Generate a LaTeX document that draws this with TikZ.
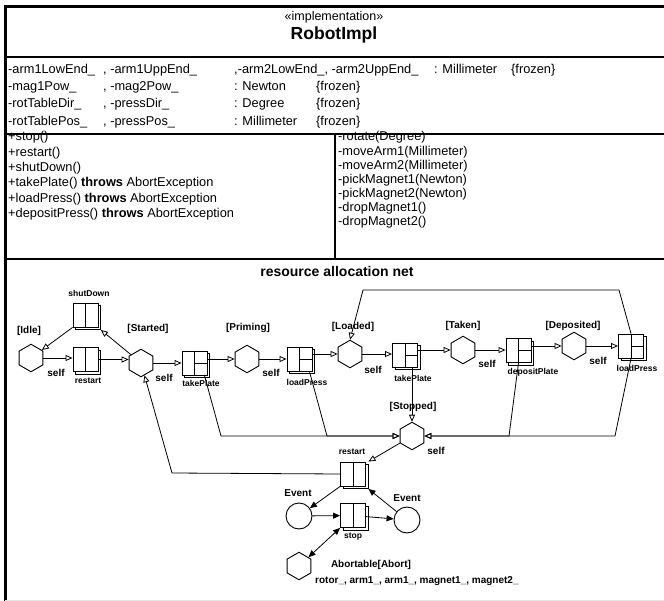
\documentclass[tikz,border=0pt]{standalone}
\usepackage{fontspec}
\setmainfont{Liberation Sans}
\usetikzlibrary{arrows.meta,shapes.geometric,shadows,calc}

% transition box: name, position, kind (2 = two cells, 3 = right cell split)
\newcommand\transbox[3]{%
  \node[tbox] (#1) at (#2) {};
  \draw[thin line] (#1.north) -- (#1.south);
  \ifnum#3=3 \draw[thin line] (#1.center) -- (#1.east);\fi
}

\begin{document}
\begin{tikzpicture}[x=1pt,y=-1pt,
  thin line/.style={line width=0.9pt},
  frame/.style={line width=3pt},
  sep/.style={line width=1.5pt},
  row/.style={anchor=west, inner sep=0pt, text height=9pt, text depth=3pt,
              font=\fontsize{12.8}{15}\selectfont},
  hex/.style={draw, line width=0.9pt, fill=white, regular polygon,
              regular polygon sides=6, shape border rotate=30,
              minimum size=27.5pt, inner sep=0pt},
  ev/.style={draw, line width=0.9pt, fill=white, circle, minimum size=26pt, inner sep=0pt},
  tbox/.style={draw, line width=0.9pt, fill=white, minimum width=25pt,
               minimum height=24pt, inner sep=0pt,
               copy shadow={shadow xshift=2.5pt, shadow yshift=-2.5pt}},
  lbl/.style={font=\fontsize{10}{12}\selectfont\bfseries, inner sep=0pt},
  tlbl/.style={font=\fontsize{8.5}{10}\selectfont\bfseries, inner sep=0pt},
  arc/.style={line width=0.8pt, -{Triangle[open,length=7pt,width=6pt]}},
  farc/.style={line width=0.8pt, -{Triangle[length=7pt,width=6pt]}},
  biarc/.style={line width=0.8pt, {Triangle[length=7pt,width=6pt]}-{Triangle[length=7pt,width=6pt]}},
]
\useasboundingbox (0,0) rectangle (664,601);

% ---------- class frame and compartments ----------
\draw[frame, line cap=rect] (5,601) -- (5,7) -- (664,7);
\draw[sep] (5,57) -- (664,57);
\draw[sep] (5,134) -- (664,134);
\draw[sep] (5,259) -- (664,259);
\draw[line width=1.2pt] (335,134) -- (335,259);
\draw[gray!20, line width=0.8pt] (5,600.5) -- (664,600.5);

\node[inner sep=0pt, font=\fontsize{12.5}{15}\selectfont] (stereo) at (334,17) {«implementation»};
\node[inner sep=0pt, font=\fontsize{17.5}{20}\selectfont\bfseries] (cname) at (334,35) {RobotImpl};

% attributes
\node[row] (a1a) at (8,71) {-arm1LowEnd\_};
\node[row] (a1b) at (103,71) {, -arm1UppEnd\_};
\node[row] (a1c) at (234,71) {,-arm2LowEnd\_, -arm2UppEnd\_};
\node[row] (a1d) at (434,71) {: Millimeter};
\node[row] (a1e) at (511,71) {\{frozen\}};
\node[row] (a2a) at (8,88) {-mag1Pow\_};
\node[row] (a2b) at (103,88) {, -mag2Pow\_};
\node[row] (a2c) at (234,88) {: Newton};
\node[row] (a2d) at (316,88) {\{frozen\}};
\node[row] (a3a) at (8,105) {-rotTableDir\_};
\node[row] (a3b) at (103,105) {, -pressDir\_};
\node[row] (a3c) at (234,105) {: Degree};
\node[row] (a3d) at (316,105) {\{frozen\}};
\node[row] (a4a) at (8,123) {-rotTablePos\_};
\node[row] (a4b) at (103,123) {, -pressPos\_};
\node[row] (a4c) at (234,123) {: Millimeter};
\node[row] (a4d) at (316,123) {\{frozen\}};

% public operations
\node[row] (o1) at (8,138) {+stop()};
\node[row] (o2) at (8,154) {+restart()};
\node[row] (o3) at (8,169) {+shutDown()};
\node[row] (o4) at (8,184) {+takePlate() \textbf{throws} AbortException};
\node[row] (o5) at (8,200) {+loadPress() \textbf{throws} AbortException};
\node[row] (o6) at (8,215) {+depositPress() \textbf{throws} AbortException};

% private operations
\node[row] (p1) at (338,138) {-rotate(Degree)};
\node[row] (p2) at (338,152.5) {-moveArm1(Millimeter)};
\node[row] (p3) at (338,167) {-moveArm2(Millimeter)};
\node[row] (p4) at (338,181) {-pickMagnet1(Newton)};
\node[row] (p5) at (338,195) {-pickMagnet2(Newton)};
\node[row] (p6) at (338,209) {-dropMagnet1()};
\node[row] (p7) at (338,223) {-dropMagnet2()};

% ---------- resource allocation net ----------
\node[inner sep=0pt, font=\fontsize{14}{16}\selectfont\bfseries] (nettitle) at (337,271) {resource allocation net};

% places
\node[hex] (idle) at (31,358) {};
\node[hex] (started) at (141,363) {};
\node[hex] (priming) at (247,359) {};
\node[hex] (loaded) at (350,354) {};
\node[hex] (taken) at (463,350) {};
\node[hex] (deposited) at (574,346) {};
\node[hex] (stopped) at (412,436) {};
\node[hex] (abortable) at (299,566) {};
\node[ev] (eventA) at (299,516) {};
\node[ev] (eventB) at (407,520) {};

% transitions
\transbox{shutdown}{85.5,315}{2}
\transbox{restartA}{85.5,359.5}{2}
\transbox{takeplateA}{194.5,363}{3}
\transbox{loadpressA}{299.5,359}{3}
\transbox{takeplateB}{405,355}{3}
\transbox{depositplate}{518.5,350.5}{3}
\transbox{loadpressB}{631,346}{3}
\transbox{restartB}{353,474}{2}
\transbox{stop}{353,515.5}{2}

% place labels
\node[lbl] (lidle) at (29,331) {[Idle]};
\node[lbl] (lstarted) at (148,329) {[Started]};
\node[lbl] (lpriming) at (248,328) {[Priming]};
\node[lbl] (lloaded) at (353,327) {[Loaded]};
\node[lbl] (ltaken) at (463,326) {[Taken]};
\node[lbl] (ldeposited) at (573,326) {[Deposited]};
\node[lbl] (lstopped) at (413,407) {[Stopped]};
\node[lbl] (leventA) at (298,493) {Event};
\node[lbl] (leventB) at (407,498) {Event};
\node[lbl] (labort) at (371,565) {Abortable[Abort]};
\node[lbl, anchor=west] (lres) at (315,581) {rotor\_, arm1\_, arm1\_, magnet1\_, magnet2\_};

% self labels
\node[lbl] (s1) at (56,373) {self};
\node[lbl] (s2) at (164,378) {self};
\node[lbl] (s3) at (271,373) {self};
\node[lbl] (s4) at (373,370) {self};
\node[lbl] (s5) at (487,364) {self};
\node[lbl] (s6) at (598,361) {self};
\node[lbl] (s7) at (436,451) {self};

% transition labels
\node[tlbl] (tshutdown) at (89,293) {shutDown};
\node[tlbl] (trestartA) at (88,381) {restart};
\node[tlbl] (ttakeplateA) at (201,383) {takePlate};
\node[tlbl] (tloadpressA) at (307,382) {loadPress};
\node[tlbl] (ttakeplateB) at (413,378) {takePlate};
\node[tlbl] (tdeposit) at (533,372) {depositPlate};
\node[tlbl] (tloadpressB) at (637,368) {loadPress};
\node[tlbl] (trestartB) at (352,452) {restart};
\node[tlbl] (tstop) at (353,537) {stop};

% bend points
\coordinate (topR) at (619,290);
\coordinate (topL) at (363,290);
\coordinate (lowA) at (221,436);
\coordinate (lowB) at (327,436);
\coordinate (lowC) at (509,436);
\coordinate (lowD) at (615,436);
\coordinate (lowE) at (172,473);

% arcs of the main cycle
\draw[arc] (idle.east) -- (restartA.west |- idle.east);
\draw[arc] (shutdown.south west) -- (idle);
\draw[arc] (restartA.east) -- (started.west |- restartA.east);
\draw[arc] (started) -- ($(shutdown.south east)+(2.5,2.5)$);
\draw[arc] (started) -- (takeplateA);
\draw[arc] (takeplateA.east |- priming.west) -- (priming.west);
\draw[arc] (priming) -- (loadpressA);
\draw[arc] (loadpressA.east |- loaded.west) -- (loaded.west);
\draw[arc] (loaded.east) -- (takeplateB.west |- loaded.east);
\draw[arc] (takeplateB.east |- taken.west) -- (taken.west);
\draw[arc] (taken.east) -- (depositplate.west |- taken.east);
\draw[arc] (depositplate.east |- deposited.west) -- (deposited.west);
\draw[arc] (deposited.east) -- (loadpressB.west |- deposited.east);
\draw[arc] (loadpressB.north) -- (topR) -- (topL) -- (loaded.north);

% arcs into the stopped place
\draw[arc] (stopped.north |- takeplateB.south) -- (stopped.north);
\draw[arc] ($(takeplateA.south east)+(-3,0)$) -- (lowA) -- (stopped.west);
\draw[arc] ($(loadpressA.south east)+(-3,0)$) -- (lowB) -- (stopped.west);
\draw[arc] (depositplate.south) -- (lowC) -- (stopped.east);
\draw[arc] (loadpressB.south) -- (lowD) -- (stopped.east);

% restart after a stop
\draw[arc] (stopped) -- ($(restartB.north east)+(2.5,0)$);
\draw[arc] (restartB.west) -- (lowE) -- (started);

% abort handling
\draw[farc] (restartB.south west) -- (eventA);
\draw[farc] (eventA) -- (stop);
\draw[farc] (stop) -- (eventB);
\draw[farc] (eventB) -- ($(restartB.south east)+(2.5,2.5)$);
\draw[biarc] (stop.south west) -- (abortable);

\end{tikzpicture}
\end{document}
